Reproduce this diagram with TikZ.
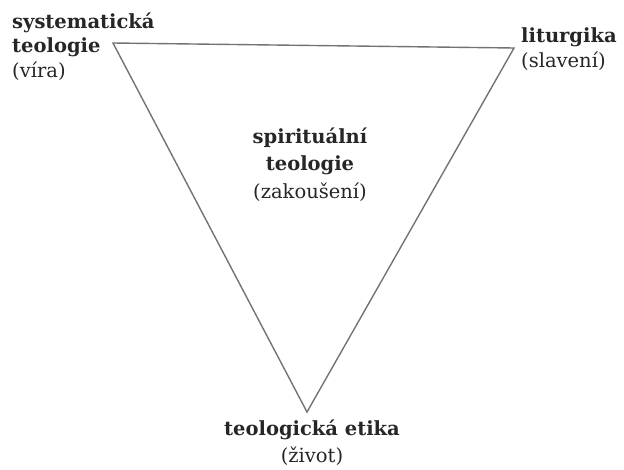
\documentclass[tikz,border=0pt]{standalone}
\usepackage{fontspec}
\setmainfont{DejaVu Serif}
\begin{document}
\begin{tikzpicture}[x=1pt,y=-1pt,
  lbl/.style={inner sep=0pt, text=black!85, font=\fontsize{19.5}{24.5}\selectfont},
  edge/.style={draw=black!55, line width=1.4pt, line join=miter}]
\useasboundingbox (0,0) rectangle (624,469);
\coordinate (A) at (113,43);
\coordinate (B) at (514,48);
\coordinate (C) at (307,412);
\draw[edge] (A) -- (B) -- (C) -- cycle;
\node[lbl, anchor=base west, align=left] (sys) at (12,77) {\textbf{systematická}\\\textbf{teologie}\\(víra)};
\node[lbl, anchor=base west, align=left] (lit) at (521,67) {\textbf{liturgika}\\(slavení)};
\node[lbl, anchor=base, align=center, font=\fontsize{19.5}{27.5}\selectfont] (spi) at (310,198) {\textbf{spirituální}\\\textbf{teologie}\\(zakoušení)};
\node[lbl, anchor=base, align=center, font=\fontsize{19.5}{27}\selectfont] (eti) at (312,462) {\textbf{teologická etika}\\(život)};
\end{tikzpicture}
\end{document}
